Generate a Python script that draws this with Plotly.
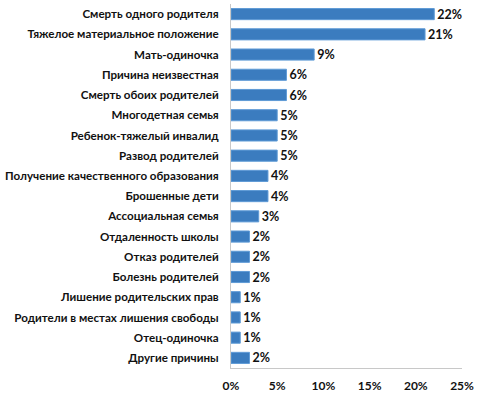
import plotly.graph_objects as go

categories = [
    "Смерть одного родителя",
    "Тяжелое материальное положение",
    "Мать-одиночка",
    "Причина неизвестная",
    "Смерть обоих родителей",
    "Многодетная семья",
    "Ребенок-тяжелый инвалид",
    "Развод родителей",
    "Получение качественного образования",
    "Брошенные дети",
    "Ассоциальная семья",
    "Отдаленность школы",
    "Отказ родителей",
    "Болезнь родителей",
    "Лишение родительских прав",
    "Родители в местах лишения свободы",
    "Отец-одиночка",
    "Другие причины",
]
values = [22, 21, 9, 6, 6, 5, 5, 5, 4, 4, 3, 2, 2, 2, 1, 1, 1, 2]
x_ticks = [0, 5, 10, 15, 20, 25]
x_tick_labels = ["0%", "5%", "10%", "15%", "20%", "25%"]

FONT = "Lato"
SZ = 11.6

fig = go.Figure(
    go.Bar(
        x=values,
        y=categories,
        orientation="h",
        marker=dict(color="#3b7cbf", line=dict(color="#5f9bd6", width=1)),
        text=[f"{v}%" for v in values],
        textposition="outside",
        constraintext="none",
        textfont=dict(family=FONT, size=12.5, color="#111111", weight="bold"),
        cliponaxis=False,
    )
)

fig.update_layout(
    width=480,
    height=398,
    margin=dict(l=231, r=18, t=4, b=30, autoexpand=False),
    paper_bgcolor="white",
    plot_bgcolor="white",
    bargap=0.45,
    showlegend=False,
    font=dict(family=FONT, size=SZ, color="#111111", weight="bold"),
)
fig.update_xaxes(
    range=[0, 25],
    tickvals=x_ticks,
    ticktext=x_tick_labels,
    showgrid=False,
    zeroline=False,
    showline=True,
    linecolor="#c8c8c8",
    linewidth=1,
    ticks="",
    ticklabelstandoff=7,
    tickfont=dict(family=FONT, size=12, color="#111111", weight="bold"),
)
fig.update_yaxes(
    autorange="reversed",
    showgrid=False,
    showline=True,
    linecolor="#c8c8c8",
    linewidth=1,
    ticks="",
    ticklabelstandoff=9,
    tickfont=dict(family=FONT, size=SZ, color="#111111", weight="bold"),
)

fig.write_html(
    "out.html",
    config={"displayModeBar": False},
    post_script="document.body.style.margin='0';document.body.style.overflow='hidden';",
)
